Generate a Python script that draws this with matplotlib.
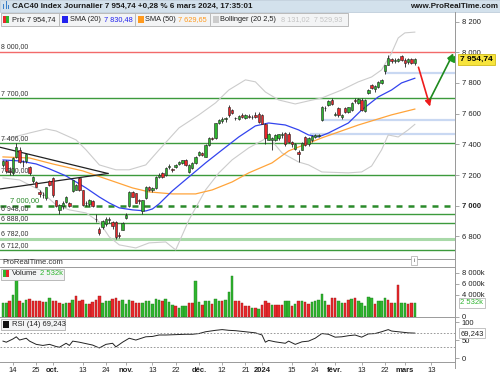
import matplotlib
matplotlib.use("Agg")
import matplotlib.pyplot as plt
import matplotlib.patches as mpatches
import matplotlib.transforms as mtransforms
import numpy as np

plt.rcParams['font.family'] = ['Liberation Sans', 'DejaVu Sans']

W, H = 500, 375

# ---------------- data ----------------
opens = [7265, 7290, 7225, 7215, 7315, 7360, 7285, 7290, 7255, 7160,
         7155, 7090, 7070, 7050, 7160, 7180, 7035, 6970, 7000, 7025,
         7018, 7095, 7105, 7178, 7100, 7015, 7010, 7030, 6915, 6850,
         6860, 6880, 6905, 6895, 6895, 6810, 6845, 6920, 6995, 7090,
         7080, 7040, 6965, 7050, 7125, 7100, 7115, 7190, 7210, 7200,
         7250, 7240, 7255, 7272, 7279, 7299, 7222, 7247, 7277, 7332,
         7345, 7320, 7396, 7440, 7440, 7537, 7550, 7565, 7640, 7622,
         7570, 7565, 7590, 7570, 7585, 7580, 7590, 7600, 7590, 7535,
         7430, 7425, 7430, 7440, 7460, 7476, 7470, 7415, 7370, 7352,
         7365, 7445, 7400, 7425, 7450, 7455, 7560, 7635, 7657, 7690,
         7590, 7635, 7580, 7637, 7612, 7625, 7690, 7670, 7690, 7615,
         7735, 7785, 7758, 7776, 7800, 7875, 7920, 7956, 7940, 7942,
         7978, 7950, 7935, 7955, 7930]
highs = [7300, 7300, 7250, 7320, 7406, 7385, 7300, 7345, 7260, 7195,
         7160, 7100, 7090, 7125, 7165, 7190, 7040, 7010, 7030, 7065,
         7025, 7170, 7140, 7185, 7105, 7030, 7045, 7040, 6945, 6860,
         6910, 6925, 6925, 6900, 6900, 6830, 6895, 6950, 7095, 7095,
         7085, 7045, 7040, 7130, 7130, 7120, 7195, 7210, 7220, 7250,
         7270, 7245, 7275, 7290, 7300, 7305, 7270, 7285, 7325, 7355,
         7350, 7400, 7445, 7450, 7540, 7565, 7575, 7580, 7657, 7630,
         7580, 7590, 7605, 7595, 7595, 7590, 7610, 7610, 7595, 7540,
         7475, 7450, 7465, 7470, 7480, 7480, 7480, 7420, 7410, 7360,
         7415, 7455, 7445, 7460, 7470, 7470, 7650, 7650, 7690, 7705,
         7610, 7640, 7600, 7645, 7645, 7675, 7700, 7700, 7700, 7695,
         7760, 7790, 7785, 7810, 7825, 7920, 7980, 7965, 7960, 7965,
         7985, 7960, 7965, 7960, 7965]
lows = [7250, 7215, 7200, 7200, 7310, 7280, 7250, 7280, 7200, 7150,
        7120, 7060, 7050, 7040, 7130, 7060, 6990, 6948, 6980, 7020,
        6990, 7090, 7100, 7095, 7000, 7000, 7000, 6990, 6895, 6810,
        6850, 6870, 6890, 6850, 6782, 6790, 6840, 6915, 6990, 7055,
        7015, 7010, 6948, 7045, 7095, 7090, 7110, 7180, 7180, 7195,
        7240, 7220, 7245, 7265, 7270, 7260, 7215, 7240, 7270, 7325,
        7325, 7315, 7390, 7425, 7435, 7530, 7540, 7545, 7575, 7600,
        7560, 7560, 7570, 7565, 7570, 7565, 7570, 7540, 7530, 7405,
        7425, 7364, 7420, 7430, 7440, 7390, 7410, 7380, 7360, 7287,
        7360, 7390, 7390, 7415, 7440, 7445, 7555, 7620, 7650, 7655,
        7585, 7580, 7565, 7605, 7605, 7620, 7670, 7660, 7615, 7610,
        7725, 7760, 7740, 7765, 7795, 7860, 7915, 7930, 7930, 7935,
        7945, 7906, 7925, 7925, 7920]
closes = [7290, 7225, 7222, 7310, 7380, 7285, 7282, 7335, 7215, 7185,
          7125, 7075, 7072, 7120, 7135, 7068, 6995, 7005, 7021, 7060,
          7000, 7165, 7135, 7104, 7005, 7020, 7035, 7000, 6912, 6822,
          6900, 6915, 6914, 6870, 6799, 6800, 6885, 6940, 7090, 7060,
          7020, 7030, 7035, 7120, 7100, 7115, 7190, 7200, 7185, 7245,
          7262, 7235, 7265, 7287, 7298, 7266, 7265, 7280, 7320, 7348,
          7332, 7396, 7440, 7432, 7537, 7559, 7565, 7570, 7590, 7605,
          7572, 7582, 7576, 7588, 7580, 7575, 7580, 7545, 7535, 7440,
          7470, 7440, 7460, 7465, 7465, 7400, 7415, 7400, 7405, 7335,
          7410, 7398, 7440, 7455, 7460, 7462, 7640, 7634, 7685, 7660,
          7598, 7592, 7590, 7613, 7640, 7668, 7680, 7695, 7624, 7690,
          7755, 7768, 7780, 7805, 7820, 7915, 7960, 7940, 7950, 7958,
          7950, 7930, 7955, 7932, 7954.74]

volume_k = [2485, 2485, 2790, 3820, 7150, 2900, 2545, 3030, 3150, 2850,
            2900, 2790, 2600, 2600, 3390, 2790, 2790, 2545, 2360, 2545,
            2545, 3030, 3700, 2790, 3030, 2360, 2240, 2600, 3030, 3640,
            2485, 2790, 2850, 3150, 3390, 2790, 3090, 2360, 3090, 2850,
            2420, 2545, 2545, 2790, 2850, 2300, 3270, 3030, 2790, 3270,
            2600, 2120, 2000, 1575, 2000, 2000, 2485, 2485, 6545, 2600,
            2180, 2900, 2900, 2300, 3150, 2900, 2730, 3030, 4545, 7330,
            2790, 2790, 2485, 2000, 1880, 1575, 1575, 1390, 2180, 2790,
            2485, 2180, 2180, 2180, 2180, 2790, 2790, 2000, 2300, 2900,
            2790, 2600, 2300, 2600, 2900, 3030, 4180, 2790, 2180, 3390,
            3330, 2790, 2485, 2485, 3030, 3210, 3450, 2790, 2485, 1880,
            3575, 3450, 2300, 2790, 2790, 3390, 3030, 2420, 2420, 5760,
            2420, 2420, 2300, 2485, 2532]
# bar colour per session, g = up, r = down (groups of five)
volume_dir = ["ggrgg", "rggrr", "rrrgg", "rrrgg", "rgrrr",
              "grrrr", "gggrr", "rgggr", "rrggg", "gggrg",
              "ggrgg", "grrgg", "rggrg", "grggg", "rrrrr",
              "grgrr", "rgrrr", "ggrgr", "grrgg", "gggrr",
              "rggrr", "grggg", "ggrgg", "grrgr", "ggrrg"]

sma20_idx = [0, 5, 10, 14, 19, 25, 29, 32, 35, 39, 43, 45, 47, 51, 56, 61, 66,
             71, 76, 80, 85, 89, 92, 95, 98, 104, 108, 113, 117, 120, 124]
sma20_val = [7298, 7292, 7272, 7240, 7194, 7116, 7057, 7018, 6986, 6973, 6966,
             6979, 7012, 7097, 7188, 7279, 7364, 7448, 7520, 7539, 7526, 7494,
             7461, 7448, 7474, 7539, 7624, 7709, 7754, 7800, 7830.48]

sma50_idx = [0, 8, 15, 24, 32, 39, 44, 51, 58, 63, 69, 74, 81, 86, 96, 107, 117, 124]
sma50_val = [7318, 7311, 7272, 7227, 7168, 7116, 7090, 7077, 7077, 7103, 7155,
             7214, 7279, 7357, 7442, 7526, 7592, 7629.65]

bb_up_idx = [0, 8, 13, 16, 22, 25, 29, 34, 38, 43, 47, 53, 59, 64, 68, 73, 76,
             79, 83, 88, 92, 96, 102, 107, 111, 114, 117, 119, 121, 124]
bb_up_val = [7429, 7474, 7500, 7487, 7429, 7364, 7266, 7234, 7234, 7266, 7364,
             7507, 7592, 7670, 7754, 7820, 7807, 7741, 7689, 7663, 7683, 7702,
             7754, 7807, 7839, 7885, 7995, 8093, 8126, 8131.02]
bb_lo_idx = [0, 5, 11, 16, 20, 25, 29, 32, 35, 40, 44, 49, 52, 56, 61, 65, 69,
             74, 80, 84, 89, 92, 96, 104, 108, 111, 114, 116, 119, 122, 124]
bb_lo_val = [7181, 7168, 7103, 7005, 6973, 6953, 6894, 6797, 6745, 6725, 6758,
             6764, 6712, 6908, 7103, 7214, 7299, 7377, 7448, 7344, 7285, 7266,
             7220, 7214, 7220, 7259, 7364, 7461, 7448, 7494, 7529.93]

rsi_idx = [0, 1, 3, 4, 5, 7, 8, 10, 12, 14, 16, 17, 19, 20, 21, 23, 25, 27, 29,
           31, 33, 34, 36, 38, 40, 42, 43, 45, 47, 49, 52, 55, 57, 59, 61, 64,
           66, 68, 70, 73, 76, 78, 79, 80, 82, 85, 86, 88, 90, 92, 94, 96, 98,
           100, 102, 104, 106, 108, 110, 112, 114, 116, 117, 119, 122, 124]
rsi_val = [47, 44, 53, 59, 50, 55, 47, 38, 35, 38, 32, 30, 41, 35, 47, 44, 40,
           36, 28, 38, 41, 31, 44, 55, 50, 56, 59, 60, 64, 64, 65, 66, 66, 68,
           73, 77, 79, 77, 76, 73, 70, 64, 44, 49, 45, 41, 47, 38, 45, 47, 55,
           68, 66, 58, 59, 62, 64, 58, 67, 68, 73, 79, 75, 73, 70, 69.243]

levels_green = [7700, 7406, 7200, 6948, 6888, 6712]
level_labels = ["7 700,00", "7 406,00", "7 200,00", "6 948,00", "6 888,00", "6 712,00"]
level_pale = 6782
level_red = 8000
level_dash = 7000
blue_zones = [(7863, 115), (7559, 96), (7470, 92.5)]

trend_a = ([-0.9, 31.6], [7381, 7210])
trend_b = ([-0.9, 31.6], [7109, 7210])
arrow_red = ((125.1, 7902), (128.6, 7646))
arrow_green = ((128.6, 7694), (135.6, 7993))

tick_idx = [3, 10, 15, 24, 31, 37, 45, 52, 59, 66, 73, 78, 87, 94, 100, 108, 115, 121, 129]
tick_lbl = ["14", "25", "oct.", "13", "24", "nov.", "13", "22", "déc.", "12",
            "21", "2024", "15", "24", "févr.", "13", "22", "mars", "13"]
price_ticks = [6800, 7000, 7200, 7400, 7600, 7800, 8000, 8200]

GREEN = "#2fb52f"
RED = "#e8282c"
LEVEL = "#3c9a3c"
GRID = "#9a9a9a"


def fx(x):
    return x / W


def fy(y):
    return 1 - y / H


def fmt(v):
    return f"{v:,.0f}".replace(",", " ")


fig = plt.figure(figsize=(5, 3.75), dpi=100)
ax = fig.add_axes([0, fy(259), fx(455), (259 - 12) / H])
axv = fig.add_axes([0, fy(316.5), fx(455), (316.5 - 267) / H], sharex=ax)
axr = fig.add_axes([0, fy(362), fx(455), (362 - 317) / H], sharex=ax)

idx = np.arange(len(closes))
o = np.array(opens, float)
c = np.array(closes, float)
up = c >= o

# ---------------- main price panel ----------------
for lv, lb in zip(levels_green, level_labels):
    ax.axhline(lv, color=LEVEL, lw=1.0, zorder=1)
    ax.text(-0.5, lv + 8, lb, fontsize=5, color="#333333", va="bottom", ha="left", zorder=6)
ax.axhline(level_pale, color="#a9d9a9", lw=2.2, zorder=1)
ax.text(-0.5, level_pale + 12, "6 782,00", fontsize=5, color="#333333", va="bottom", zorder=6)
ax.axhline(level_red, color="#f26a6a", lw=1.0, zorder=1)
ax.text(-0.5, level_red + 12, "8 000,00", fontsize=5, color="#333333", va="bottom", zorder=6)
ax.axhline(level_dash, color="#2a8a2a", lw=1.8, ls=(0, (2.4, 2.4)), zorder=1)
ax.text(2, level_dash + 8, "7 000,00", fontsize=5.5, color="#2a8a2a", va="bottom", zorder=6)

for lv, start in blue_zones:
    ax.hlines(lv, start, 137, color="#c9d8f2", lw=1.6, zorder=1)

ax.plot(bb_up_idx, bb_up_val, color="#cccccc", lw=0.8, zorder=2)
ax.plot(bb_lo_idx, bb_lo_val, color="#cccccc", lw=0.8, zorder=2)
ax.plot(sma50_idx, sma50_val, color="#ffa43a", lw=0.9, zorder=2)
ax.plot(sma20_idx, sma20_val, color="#3344ee", lw=0.9, zorder=2)
ax.plot(*trend_a, color="#222222", lw=0.9, zorder=2)
ax.plot(*trend_b, color="#222222", lw=0.9, zorder=2)

ax.vlines(idx, lows, highs, color="#222222", lw=0.6, zorder=3)
body_lo = np.minimum(o, c)
body_h = np.maximum(np.abs(c - o), 3)
ax.bar(idx, body_h, bottom=body_lo, width=0.72,
       color=np.where(up, GREEN, RED), edgecolor="#222222", linewidth=0.4, zorder=4)

for (p0, p1), col in [(arrow_red, "#ee1c1c"), (arrow_green, "#1e8a1e")]:
    ax.annotate("", xy=p1, xytext=p0,
                arrowprops=dict(arrowstyle="-|>", color=col, lw=1.2,
                                mutation_scale=9, shrinkA=0, shrinkB=0), zorder=7)

ax.set_xlim(-0.9, 136.1)
ax.set_ylim(6653, 8262)
ax.yaxis.tick_right()
ax.set_yticks(price_ticks)
ax.set_yticklabels([fmt(v) for v in price_ticks])
ax.tick_params(axis="y", labelsize=5.5, length=3, width=0.6, color=GRID, pad=2,
               labelcolor="#222222")
ax.get_yticklabels()[1].set_fontweight("bold")
ax.tick_params(axis="x", bottom=False, labelbottom=False)
for s in ["left", "top"]:
    ax.spines[s].set_visible(False)
for s in ["right", "bottom"]:
    ax.spines[s].set_color(GRID)
    ax.spines[s].set_linewidth(0.7)

blend = mtransforms.blended_transform_factory(ax.transAxes, ax.transData)
ax.text(1.012, closes[-1], "7 954,74", transform=blend, fontsize=6, fontweight="bold",
        va="center", ha="left", zorder=8,
        bbox=dict(boxstyle="square,pad=0.25", fc="#f7e43c", ec="#c8b000", lw=0.5))
ax.plot([0.992], [closes[-1]], marker="<", ms=5, color="#1e9a1e", transform=blend,
        clip_on=False, zorder=8)

# ---------------- volume panel ----------------
dirs = "".join(volume_dir)
vcol = [GREEN if ch == "g" else RED for ch in dirs]
vedge = ["#1f7f1f" if ch == "g" else "#a01818" for ch in dirs]
axv.bar(idx, volume_k, width=0.75, color=vcol, edgecolor=vedge, linewidth=0.3)
axv.set_ylim(0, 9000)
axv.yaxis.tick_right()
axv.set_yticks([0, 4000, 6000, 8000])
axv.set_yticklabels(["0", "4 000k", "6 000k", "8 000k"])
axv.tick_params(axis="y", labelsize=5.5, length=3, width=0.6, color=GRID, pad=2,
                labelcolor="#222222")
axv.tick_params(axis="x", bottom=False, labelbottom=False)
axv.spines["left"].set_visible(False)
for s in ["right", "bottom", "top"]:
    axv.spines[s].set_color(GRID)
    axv.spines[s].set_linewidth(0.7)
blendv = mtransforms.blended_transform_factory(axv.transAxes, axv.transData)
axv.text(1.012, volume_k[-1], "2 532k", transform=blendv, fontsize=5.5, color="#2fb52f",
         va="center", ha="left",
         bbox=dict(boxstyle="square,pad=0.2", fc="white", ec="#aaaaaa", lw=0.5))

# ---------------- RSI panel ----------------
axr.plot(rsi_idx, rsi_val, color="#222222", lw=0.7)
axr.axhline(70, color="#888888", lw=0.6, ls=(0, (2, 2)))
axr.axhline(30, color="#888888", lw=0.6, ls=(0, (2, 2)))
axr.set_ylim(-11, 114)
axr.yaxis.tick_right()
axr.set_yticks([0, 50, 100])
axr.set_yticklabels(["0", "50", "100"])
axr.tick_params(axis="y", labelsize=5.5, length=3, width=0.6, color=GRID, pad=2,
                labelcolor="#222222")
blendr = mtransforms.blended_transform_factory(axr.transAxes, axr.transData)
axr.text(1.012, rsi_val[-1], "69,243", transform=blendr, fontsize=5.5, color="#222222",
         va="center", ha="left",
         bbox=dict(boxstyle="square,pad=0.2", fc="white", ec="#aaaaaa", lw=0.5))
axr.spines["left"].set_visible(False)
for s in ["right", "bottom", "top"]:
    axr.spines[s].set_color(GRID)
    axr.spines[s].set_linewidth(0.7)
axr.set_xticks(tick_idx)
axr.set_xticklabels(tick_lbl)
axr.tick_params(axis="x", labelsize=5.5, length=2, width=0.6, color=GRID, pad=1.5,
                labelcolor="#222222")
for t in axr.get_xticklabels():
    if not t.get_text().isdigit() or t.get_text() == "2024":
        t.set_fontweight("bold")
axr.set_xlim(-0.9, 136.1)

# ---------------- header and legends ----------------
fig.patches.append(mpatches.Rectangle((0, fy(12)), 1, 12 / H, transform=fig.transFigure,
                                      fc="#d3e1ec", ec="#b8c8d6", lw=0.5, zorder=0))
for i, hh in enumerate([5, 8, 4]):
    fig.patches.append(mpatches.Rectangle((fx(3 + i * 2.5), fy(9)), 1.4 / W, hh / H,
                                          transform=fig.transFigure, fc="#3a7fc8", zorder=1))
fig.text(fx(12), fy(6), "CAC40 Index Journalier 7 954,74 +0,28 % 6 mars 2024, 17:35:01",
         fontsize=5.8, fontweight="bold", color="#1a1a1a", va="center")
fig.text(fx(498), fy(6), "www.ProRealTime.com", fontsize=5.8, fontweight="bold",
         color="#1a1a1a", va="center", ha="right")

fig.patches.append(mpatches.Rectangle((fx(0.5), fy(25.5)), fx(347), 12 / H, transform=fig.transFigure,
                                      fc="#f3f4f5", ec="#b0b0b0", lw=0.6, zorder=5))
for xs in [59, 135, 210]:
    fig.lines.append(plt.Line2D([fx(xs), fx(xs)], [fy(25), fy(14)], transform=fig.transFigure,
                                color="#b0b0b0", lw=0.6, zorder=6))
legend_y = fy(19.5)
fig.patches.append(mpatches.Rectangle((fx(3), fy(23)), 3 / W, 7 / H, transform=fig.transFigure,
                                      fc=RED, zorder=6))
fig.patches.append(mpatches.Rectangle((fx(6), fy(23)), 3 / W, 7 / H, transform=fig.transFigure,
                                      fc=GREEN, zorder=6))
fig.text(fx(11.5), legend_y, "Prix 7 954,74", fontsize=5.3, color="#222222", va="center", zorder=7)
for x0, col in [(62, "#2222ee"), (137.5, "#ff9a1e"), (212.5, "#cccccc")]:
    fig.patches.append(mpatches.Rectangle((fx(x0), fy(23)), 6 / W, 7 / H, transform=fig.transFigure,
                                          fc=col, zorder=6))
fig.text(fx(70), legend_y, "SMA (20)", fontsize=5.3, color="#222222", va="center", zorder=7)
fig.text(fx(103.5), legend_y, "7 830,48", fontsize=5.3, color="#2222ee", va="center", zorder=7)
fig.text(fx(145), legend_y, "SMA (50)", fontsize=5.3, color="#222222", va="center", zorder=7)
fig.text(fx(178.5), legend_y, "7 629,65", fontsize=5.3, color="#ff9a1e", va="center", zorder=7)
fig.text(fx(220), legend_y, "Bollinger (20 2,5)", fontsize=5.3, color="#222222", va="center", zorder=7)
fig.text(fx(281), legend_y, "8 131,02  7 529,93", fontsize=5.3, color="#c4c4c4", va="center", zorder=7)

fig.text(fx(2), fy(262.5), "ProRealTime.com", fontsize=5.5, color="#333333", va="center")
fig.text(fx(414), fy(260.5), "i", fontsize=4.5, color="#555555", va="center", ha="center",
         bbox=dict(boxstyle="square,pad=0.3", fc="white", ec="#aaaaaa", lw=0.5))

fig.patches.append(mpatches.Rectangle((fx(0.5), fy(279.5)), fx(63), 11 / H, transform=fig.transFigure,
                                      fc="#f3f4f5", ec="#b0b0b0", lw=0.6, zorder=5))
fig.patches.append(mpatches.Rectangle((fx(3), fy(277)), 3 / W, 7 / H, transform=fig.transFigure,
                                      fc=GREEN, zorder=6))
fig.patches.append(mpatches.Rectangle((fx(6), fy(277)), 3 / W, 7 / H, transform=fig.transFigure,
                                      fc=RED, zorder=6))
fig.text(fx(11.5), fy(273.5), "Volume", fontsize=5.5, color="#222222", va="center", zorder=7)
fig.text(fx(39.5), fy(273.5), "2 532k", fontsize=5.5, color="#2fb52f", va="center", zorder=7)

fig.patches.append(mpatches.Rectangle((fx(0.5), fy(330)), fx(64), 11 / H, transform=fig.transFigure,
                                      fc="#f3f4f5", ec="#b0b0b0", lw=0.6, zorder=5))
fig.patches.append(mpatches.Rectangle((fx(3), fy(327.5)), 6 / W, 7 / H, transform=fig.transFigure,
                                      fc="#111111", zorder=6))
fig.text(fx(11.5), fy(324), "RSI (14) 69,243", fontsize=5.5, color="#222222", va="center", zorder=7)

fig.lines.append(plt.Line2D([fx(455), fx(455)], [fy(12), fy(368)], transform=fig.transFigure,
                            color=GRID, lw=0.7))

plt.savefig("out.png", dpi=100)
